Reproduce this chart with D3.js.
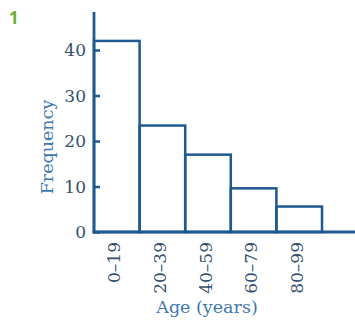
<!DOCTYPE html>
<html>
<head>
<meta charset="utf-8">
<script src="https://cdn.jsdelivr.net/npm/d3@7"></script>
<style>
  html, body { margin: 0; padding: 0; background: #fff; }
  svg { display: block; }
</style>
</head>
<body>
<svg id="chart" width="355" height="322"></svg>
<script>
// Age groups (class intervals, years) and their frequencies
const ageStarts = [0, 20, 40, 60, 80];
const ageEnds = [20, 40, 60, 80, 100];
const ageLabels = ["0–19", "20–39", "40–59", "60–79", "80–99"];
const frequencies = [42, 23.4, 17, 9.6, 5.6];
const yTicks = [0, 10, 20, 30, 40];

const svg = d3.select("#chart");
const axisColor = "#1f5a8f";
const textColor = "#34506e";
const serif = "'DejaVu Serif', 'Liberation Serif', serif";

const x = d3.scaleLinear().domain([0, 100]).range([94, 322]);
const y = d3.scaleLinear().domain([0, 46.6]).range([232, 20]);

// Question number
svg.append("text")
  .attr("x", 9).attr("y", 24)
  .attr("font-family", "'Open Sans', 'DejaVu Sans', sans-serif")
  .attr("font-weight", "bold")
  .attr("font-size", 17)
  .attr("fill", "#6aad3d")
  .text("1");

// Histogram bars
svg.append("g").selectAll("rect")
  .data(frequencies)
  .join("rect")
  .attr("x", (d, i) => x(ageStarts[i]))
  .attr("width", (d, i) => x(ageEnds[i]) - x(ageStarts[i]))
  .attr("y", d => y(d))
  .attr("height", d => y(0) - y(d))
  .attr("fill", "none")
  .attr("stroke", axisColor)
  .attr("stroke-width", 2.5);

// y axis with inward ticks
const yAxis = svg.append("g")
  .attr("transform", `translate(${x(0)},0)`)
  .call(d3.axisRight(y).tickValues(yTicks).tickSize(6).tickFormat(""));
yAxis.select(".domain").remove();
yAxis.selectAll("line").attr("stroke", axisColor).attr("stroke-width", 2.5);

svg.append("line")
  .attr("x1", x(0)).attr("x2", x(0))
  .attr("y1", 12).attr("y2", y(0) + 1.2)
  .attr("stroke", axisColor).attr("stroke-width", 2.8);

svg.append("g").selectAll("text")
  .data(yTicks)
  .join("text")
  .attr("x", 86)
  .attr("y", d => y(d))
  .attr("dy", "0.36em")
  .attr("text-anchor", "end")
  .attr("font-family", serif)
  .attr("font-size", 17)
  .attr("fill", textColor)
  .text(d => d);

// x axis baseline running to the edge
svg.append("line")
  .attr("x1", x(0) - 1.4).attr("x2", 355)
  .attr("y1", y(0)).attr("y2", y(0))
  .attr("stroke", axisColor).attr("stroke-width", 2.8);

// rotated class labels under bar centres
svg.append("g").selectAll("text")
  .data(ageLabels)
  .join("text")
  .attr("transform", (d, i) => `translate(${(x(ageStarts[i]) + x(ageEnds[i])) / 2 - 2.5},242) rotate(-90)`)
  .attr("dy", "0.36em")
  .attr("text-anchor", "end")
  .attr("font-family", serif)
  .attr("font-size", 17)
  .attr("fill", textColor)
  .text(d => d);

// Axis titles
svg.append("text")
  .attr("x", 207).attr("y", 313)
  .attr("text-anchor", "middle")
  .attr("font-family", serif)
  .attr("font-size", 17.5)
  .attr("fill", "#3d78b0")
  .text("Age (years)");

svg.append("text")
  .attr("transform", "translate(53,147) rotate(-90)")
  .attr("text-anchor", "middle")
  .attr("font-family", serif)
  .attr("font-size", 17.5)
  .attr("fill", "#3d78b0")
  .text("Frequency");
</script>
</body>
</html>
